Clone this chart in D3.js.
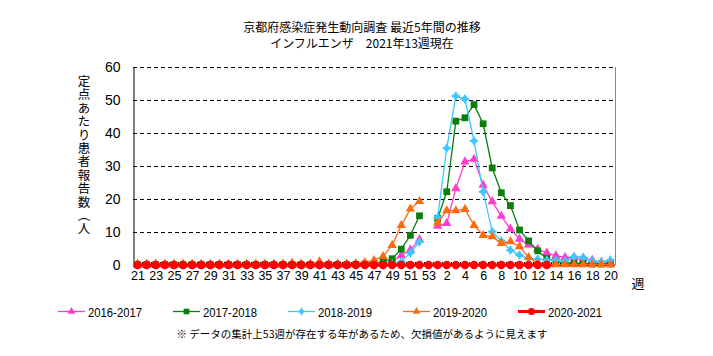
<!DOCTYPE html>
<html><head><meta charset="utf-8">
<script src="https://cdn.jsdelivr.net/npm/d3@7"></script>
<style>body{margin:0;background:#fff} svg{display:block}</style>
</head><body><svg id="c" width="713" height="356"></svg>
<script>
const weeks = ["21","22","23","24","25","26","27","28","29","30","31","32","33","34","35","36","37","38","39","40","41","42","43","44","45","46","47","48","49","50","51","52","53","1","2","3","4","5","6","7","8","9","10","11","12","13","14","15","16","17","18","19","20"];
const tickWeeks = ["21","23","25","27","29","31","33","35","37","39","41","43","45","47","49","51","53","2","4","6","8","10","12","14","16","18","20"];
const yTicks = [0,10,20,30,40,50,60];
const seriesNames = ["2016-2017","2017-2018","2018-2019","2019-2020","2020-2021"];

const s2016 = [0,0,0,0,0,0,0,0,0,0, 0,0,0,0,0,0,0,0,0,0, 0,0,0,0,0.1,0.2,0.4,0.7,1.0,2.9, 4.6,7.7,null,
  11.8,12.6,23.2,31.3,32.1,24.2,19.2,14.8,10.9,7.9, 6.1,4.8,3.7,2.8,2.3,2.3,2.1,1.5,0.9,0.7];
const s2017 = [0.1,0.1,0.1,0.1,0.1,0.1,0.1,0.1,0.1,0.1, 0.1,0.1,0.1,0.1,0.1,0.1,0.1,0.1,0.1,0.1, 0.1,0.1,0.1,0.1,0.2,0.3,0.5,1.0,1.9,4.8, 9.0,14.9,null,
  14.1,22.2,43.6,44.6,48.6,42.8,29.4,21.9,18.0,10.6, 7.3,4.3,2.0,1.0,0.6,0.5,0.4,0.3,0.3,0.3];
const s2018 = [0,0,0,0,0,0,0,0,0,0, 0,0,0,0,0,0,0,0,0,0, 0,0,0,0,0,0,0,0.1,0.3,1.0, 3.7,7.0,null,
  14.4,35.4,51.2,50.3,37.6,22.2,10.1,7.3,4.5,3.0, 2.0,1.8,1.5,1.5,1.2,2.5,2.3,1.2,0.9,1.5];
const s2019 = [0.3,0.3,0.3,0.3,0.3,0.3,0.3,0.3,0.3,0.3, 0.3,0.3,0.3,0.3,0.3,0.3,0.3,0.6,0.3,0.3, 1.0,0.3,0.3,0.3,0.5,0.8,1.4,2.6,6.0,12.0, 17.0,19.3,null,
  12.8,16.5,16.5,16.9,12.0,9.0,8.6,6.6,7.1,5.6, 2.3,0.5,0.1,0.1,0.1,0.1,0.1,0.1,0.1,0.1];
const s2020 = [0,0,0,0,0,0,0,0,0,0, 0,0,0,0,0,0,0,0,0,0, 0,0,0,0,0,0,0,0,0,0, 0,0,0,
  0,0,0,0,0,0,0,0,0,0, 0,0,0,null,null,null,null,null,null,null];

const titleLines = ["京都府感染症発生動向調査 最近5年間の推移", "インフルエンザ　2021年13週現在"];
const yLabel = "定点あたり患者報告数︵人";
const xUnit = "週";
const footnote = "※ データの集計上53週が存在する年があるため、欠損値があるように見えます";

const star4 = {draw(ctx, size){const r=Math.sqrt(size)*0.72, q=r*0.38;
  ctx.moveTo(0,-r); ctx.lineTo(q,-q); ctx.lineTo(r,0); ctx.lineTo(q,q); ctx.lineTo(0,r); ctx.lineTo(-q,q); ctx.lineTo(-r,0); ctx.lineTo(-q,-q); ctx.closePath();}};

const styles = [
  {color:"#ff3ccc", sym:d3.symbolTriangle, size:38, w:1.3},
  {color:"#0a7d0a", sym:d3.symbolSquare, size:46, w:1.3},
  {color:"#3cc8ff", sym:star4, size:48, w:1.3},
  {color:"#ff6a10", sym:d3.symbolTriangle, size:38, w:1.3},
  {color:"#ff0000", sym:d3.symbolCircle, size:56, w:3}
];
const data = [s2016, s2017, s2018, s2019, s2020];

const svg = d3.select("#c");
const L=133, R=615, T=67, B=265;
const x = d3.scalePoint().domain(weeks).range([L,R]).padding(0.5);
const y = d3.scaleLinear().domain([0,60]).range([B,T]);
const step = x.step();

// titles
svg.selectAll("text.title").data(titleLines).join("text")
  .attr("x",362).attr("y",(d,i)=>32+i*16).attr("text-anchor","middle")
  .attr("font-family","'Noto Sans CJK JP', sans-serif").attr("font-size",12).text(d=>d);

// grid
svg.append("g").selectAll("line").data(yTicks.filter(v=>v>0)).join("line")
  .attr("x1",L).attr("x2",R).attr("y1",d=>y(d)+0.5).attr("y2",d=>y(d)+0.5)
  .attr("stroke","#000").attr("stroke-dasharray","4,3").attr("stroke-width",1);

// right border
svg.append("line").attr("x1",R+0.5).attr("x2",R+0.5).attr("y1",T).attr("y2",B).attr("stroke","#888");

// y axis
const ya = svg.append("g").attr("transform",`translate(${L+0.5},0)`)
  .call(d3.axisLeft(y).tickValues(yTicks).tickSize(0).tickPadding(13));
ya.select(".domain").attr("stroke","#000");
ya.selectAll("text").attr("font-family","'Liberation Sans', Arial, sans-serif").attr("font-size",14).attr("fill","#000");

// x baseline and labels
svg.append("line").attr("x1",L).attr("x2",R).attr("y1",B+0.5).attr("y2",B+0.5).attr("stroke","#000");
svg.append("g").selectAll("line").data(weeks.slice(1)).join("line")
  .attr("x1",d=>Math.round(x(d)-step/2)+0.5).attr("x2",d=>Math.round(x(d)-step/2)+0.5)
  .attr("y1",B-3).attr("y2",B).attr("stroke","#000");
const xa = svg.append("g").attr("transform",`translate(0,${B})`)
  .call(d3.axisBottom(x).tickValues(tickWeeks).tickSize(0).tickPadding(6));
xa.select(".domain").remove();
xa.selectAll("text").attr("font-family","'Liberation Sans', Arial, sans-serif").attr("font-size",12.5).attr("fill","#000");
svg.append("text").attr("x",638).attr("y",288).attr("text-anchor","middle")
  .attr("font-family","'Noto Sans CJK JP', sans-serif").attr("font-size",13).text(xUnit);

// y label, vertical writing
svg.append("text").attr("x",84).attr("y",75)
  .style("writing-mode","vertical-rl").style("text-orientation","upright")
  .attr("font-family","'Noto Sans CJK JP', sans-serif").attr("font-size",12.5)
  .attr("letter-spacing",0.9).text(yLabel);

// series
const line = d3.line().defined(d=>d.v!=null).x(d=>x(d.w)).y(d=>y(d.v));
data.forEach((arr,i)=>{
  const pts = arr.map((v,j)=>({w:weeks[j], v}));
  const st = styles[i];
  const g = svg.append("g");
  g.append("path").datum(pts).attr("d",line).attr("fill","none").attr("stroke",st.color).attr("stroke-width",st.w);
  g.selectAll("path.m").data(pts.filter(p=>p.v!=null)).join("path").attr("class","m")
    .attr("transform",p=>`translate(${x(p.w)},${y(p.v)})`)
    .attr("d",d3.symbol(st.sym, st.size)).attr("fill",st.color);
});

// legend
const lg = svg.append("g").selectAll("g").data(seriesNames).join("g")
  .attr("transform",(d,i)=>`translate(${58+i*115},311)`);
lg.append("line").attr("x1",0).attr("x2",27).attr("y1",0.5).attr("y2",0.5)
  .attr("stroke",(d,i)=>styles[i].color).attr("stroke-width",(d,i)=>styles[i].w);
lg.append("path").attr("transform","translate(13.5,0.5)")
  .attr("d",(d,i)=>d3.symbol(styles[i].sym, styles[i].size*0.7)()).attr("fill",(d,i)=>styles[i].color);
lg.append("text").attr("x",30).attr("y",6).attr("font-family","'Liberation Sans Narrow','Liberation Sans',Arial,sans-serif")
  .attr("font-size",13).attr("textLength",54).attr("lengthAdjust","spacingAndGlyphs").text(d=>d);

// footnote
svg.append("text").attr("x",362).attr("y",338).attr("text-anchor","middle")
  .attr("font-family","'Noto Sans CJK JP', sans-serif").attr("font-size",10.5).text(footnote);
</script></body></html>
